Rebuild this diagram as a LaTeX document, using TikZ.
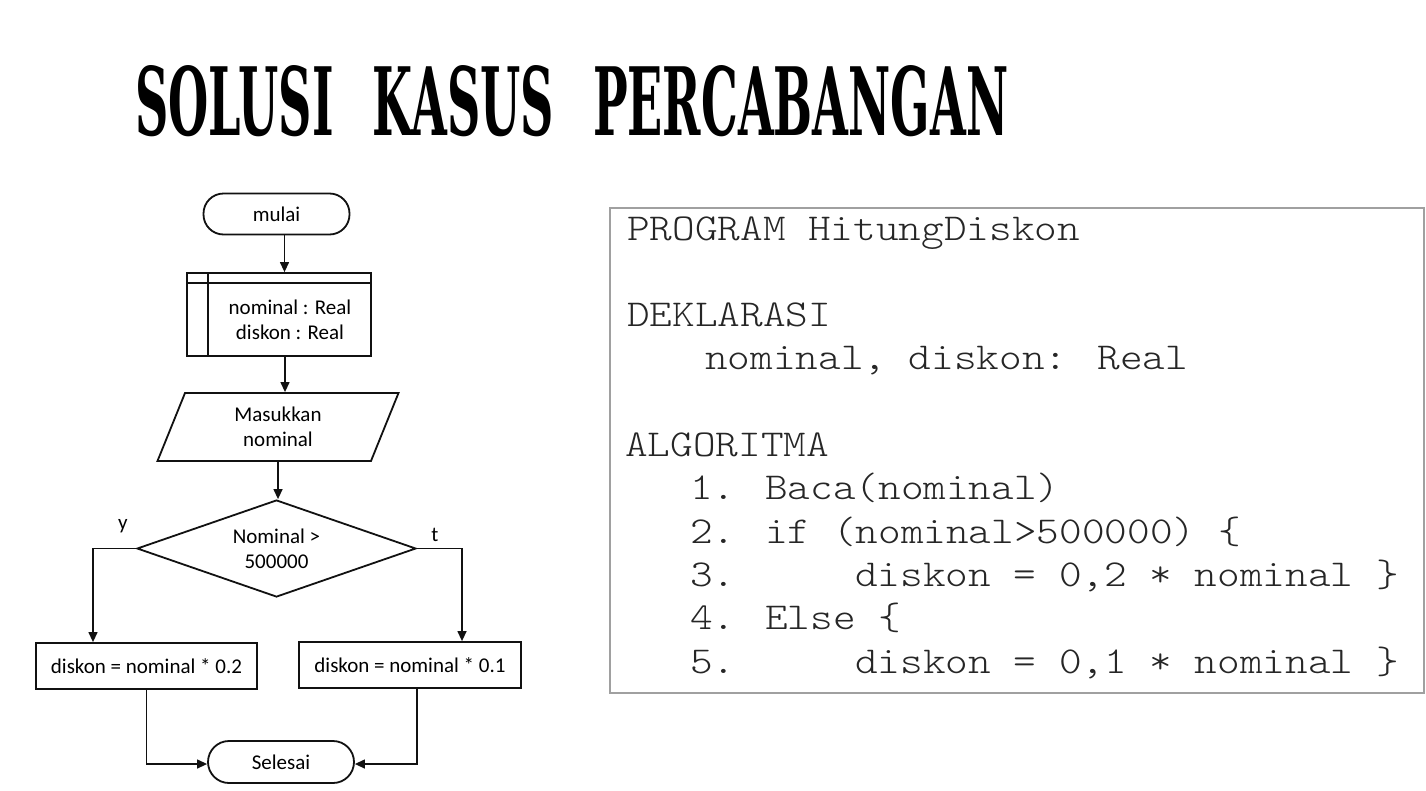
\documentclass[tikz,border=0pt]{standalone}
\usepackage{fontspec}
\setmainfont{Carlito}
\newfontfamily\codefont[FakeStretch=1.135]{Latin Modern Mono Light}
\newfontfamily\titlefont{DejaVu Serif}
\usepackage{tikz}
\usetikzlibrary{arrows.meta,positioning,calc,shapes.geometric}
\definecolor{ink}{HTML}{111111}
\definecolor{codeink}{HTML}{262626}
\definecolor{framegray}{HTML}{A0A0A0}
\tikzset{
    every picture/.style={line join=miter},
    chartfont/.style={font=\fontsize{21}{25}\selectfont},
    termnode/.style={draw=ink,line width=1.8pt,rounded corners=20pt,
      minimum width=146pt,minimum height=41pt,inner sep=0pt,chartfont},
    procnode/.style={draw=ink,line width=1.8pt,minimum height=46pt,
      inner sep=0pt,chartfont},
    storenode/.style={draw=ink,line width=1.8pt,minimum width=184pt,
      minimum height=83pt,inner sep=0pt},
    ionode/.style={draw=ink,line width=1.8pt,trapezium,trapezium left angle=55.3,
      trapezium right angle=124.7,trapezium stretches body,minimum width=241pt,
      minimum height=68pt,inner sep=0pt,chartfont,align=center},
    decnode/.style={draw=ink,line width=1.8pt,diamond,aspect=2.8,
      minimum width=279pt,minimum height=97pt,inner sep=0pt,chartfont,align=center},
    flowarrow/.style={-{Triangle[length=10pt,width=9pt]},draw=ink,line width=1.3pt},
    branchlabel/.style={chartfont,inner sep=0pt},
    codeline/.style={anchor=base west,inner sep=0pt,text=codeink,
      font=\codefont\fontsize{38}{45}\selectfont}
}
\begin{document}
\begin{tikzpicture}[x=1pt,y=-1pt]
  \useasboundingbox[fill=white] (0,0) rectangle (1426,790);
  % title
  \node[anchor=base west,inner sep=0pt] (title) at (135,135)
    {\resizebox{873pt}{70pt}{\titlefont\bfseries SOLUSI\hspace{0.5em} KASUS\hspace{0.5em} PERCABANGAN}};
  % flowchart
  \node[termnode] (mulai) at (276.5,214){mulai};
  \node[storenode] (decl) at (279,314.5){};
  \draw[ink,line width=1.8pt] ([yshift=-11pt]decl.north west) -- ([yshift=-11pt]decl.north east);
  \draw[ink,line width=1.8pt] ([xshift=22pt]decl.north west) -- ([xshift=22pt]decl.south west);
  \node[chartfont,align=center,inner sep=0pt] (decltext) at (290,320){nominal : Real\\diskon : Real};
  \node[ionode] (input) at (278,427){Masukkan\\nominal};
  \node[decnode] (cond) at (276.5,548.5){Nominal >\\500000};
  \node[procnode,minimum width=221pt] (calcy) at (146.5,666){diskon = nominal * 0.2};
  \node[procnode,minimum width=222pt] (calct) at (410,665){diskon = nominal * 0.1};
  \node[termnode,minimum height=42pt,rounded corners=21pt] (done) at (281,762){Selesai};
  \node[branchlabel] (ylab) at (123,526){y};
  \node[branchlabel] (tlab) at (435,535){t};
  \draw[flowarrow] ([xshift=8pt]mulai.south) -- ([xshift=8pt]mulai.south |- decl.north);
  \draw[flowarrow] ([xshift=6pt]decl.south) -- ([xshift=6pt]decl.south |- input.north);
  \draw[flowarrow] (input.south) -- (input.south |- cond.north);
  \draw[flowarrow] (cond.west) -| ([xshift=-53.5pt]calcy.north);
  \draw[flowarrow] (cond.east) -| ([xshift=52pt]calct.north);
  \draw[flowarrow] (calcy.south) |- ([yshift=-2pt]done.west);
  \draw[flowarrow] ([xshift=7pt]calct.south) |- ([yshift=-2pt]done.east);
  % pseudocode
  \node[draw=framegray,line width=1.2pt,minimum width=814pt,minimum height=485pt,
    inner sep=0pt] (codebox) at (1017,450.5){};
  \node[codeline] (prog) at (627,240){PROGRAM HitungDiskon};
  \node[codeline] (dekl) at (627,326.6){DEKLARASI};
  \node[codeline] (vars) at (705,369.9){nominal, diskon: Real};
  \node[codeline] (algo) at (625,456.5){ALGORITMA};
  \foreach \n/\yy in {1/499.8,2/543,3/586,4/629,5/673}
    \node[codeline] (num\n) at (690,\yy){\n.};
  \node[codeline] (stepa) at (765,499.8){Baca(nominal)};
  \node[codeline] (stepb) at (765,543){if (nominal>500000) \{};
  \node[codeline] (stepc) at (855,586){diskon = 0,2 * nominal \}};
  \node[codeline] (stepd) at (765,629){Else \{};
  \node[codeline] (stepe) at (855,673){diskon = 0,1 * nominal \}};
\end{tikzpicture}
\end{document}
